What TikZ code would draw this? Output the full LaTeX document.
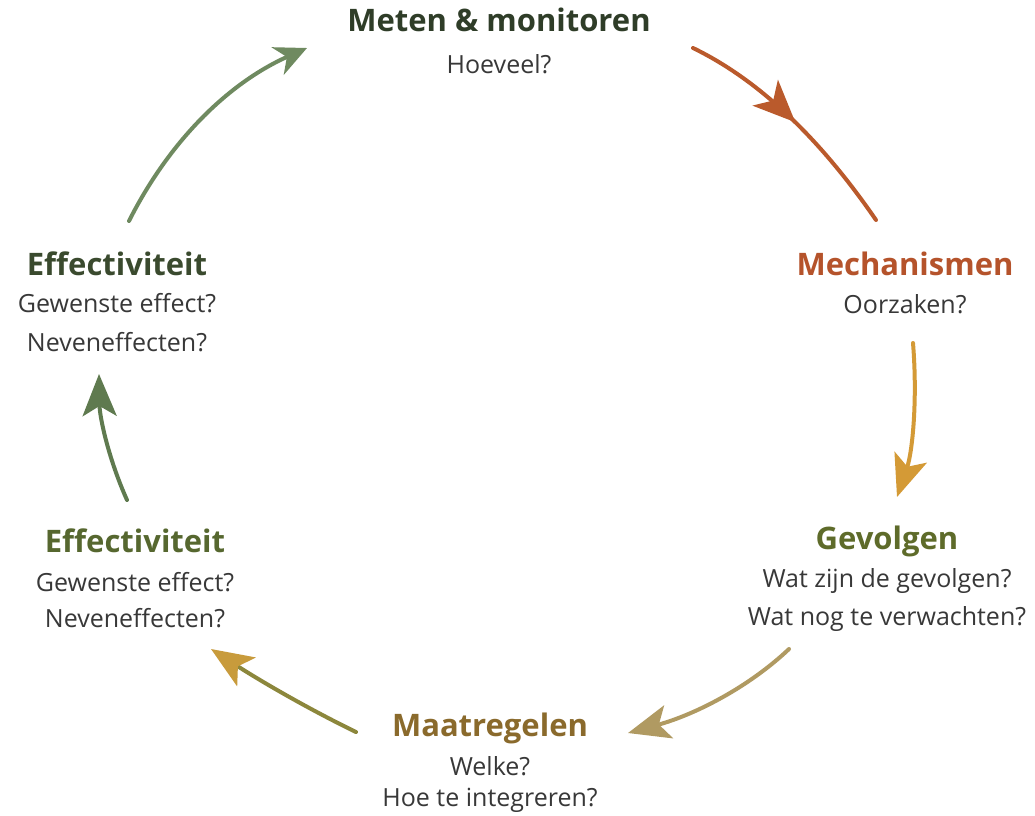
\documentclass[tikz,border=0pt]{standalone}
\usepackage{fontspec}
\setmainfont{Open Sans}
\usetikzlibrary{arrows.meta,decorations.markings,calc}
\definecolor{cMeten}{HTML}{2F3D28}
\definecolor{cMech}{HTML}{B5532B}
\definecolor{cGev}{HTML}{5E6B2A}
\definecolor{cMaat}{HTML}{8A6A2C}
\definecolor{cEffB}{HTML}{56672F}
\definecolor{cEffT}{HTML}{3A4A2E}
\definecolor{cBody}{HTML}{383838}
\definecolor{aOrange}{HTML}{BA5A2C}
\definecolor{aYellow}{HTML}{D49A36}
\definecolor{aTan}{HTML}{B09A62}
\definecolor{aOlive}{HTML}{8C873C}
\definecolor{aGold}{HTML}{C89B3C}
\definecolor{aGreen}{HTML}{5F7A4F}
\definecolor{aGreenL}{HTML}{6F8A60}
\begin{document}
\begin{tikzpicture}[x=1pt,y=-1pt,
  title/.style={font=\fontsize{31}{36}\selectfont\bfseries, inner sep=0pt, anchor=center},
  body/.style={font=\fontsize{25}{30}\selectfont, text=cBody, inner sep=0pt, anchor=center},
  arr/.style={line width=4pt, line cap=round},
  tip/.style={-{Stealth[length=42pt,width=34pt,inset=10pt]}},
]
\useasboundingbox (0,0) rectangle (1035,815);
\fill[white] (0,0) rectangle (1035,815);

% Texts
\node[title,text=cMeten] (t1) at (499,20) {Meten \& monitoren};
\node[body] (b1) at (499,64) {Hoeveel?};

\node[title,text=cMech] (t2) at (905,264) {Mechanismen};
\node[body] (b2) at (905,304) {Oorzaken?};

\node[title,text=cGev] (t3) at (887,541) {Gevolgen};
\node[body] (b3a) at (887,581) {Wat zijn de gevolgen?};
\node[body] (b3b) at (887,619) {Wat nog te verwachten?};

\node[title,text=cMaat] (t4) at (490,728) {Maatregelen};
\node[body] (b4a) at (490,766) {Welke?};
\node[body] (b4b) at (490,800) {Hoe te integreren?};

\node[title,text=cEffB] (t5) at (135,541) {Effectiviteit};
\node[body] (b5a) at (135,582) {Gewenste effect?};
\node[body] (b5b) at (135,618) {Neveneffecten?};

\node[title,text=cEffT] (t6) at (117,264) {Effectiviteit};
\node[body] (b6a) at (117,303) {Gewenste effect?};
\node[body] (b6b) at (117,342) {Neveneffecten?};

% Arrow coordinates (start, quadratic control, end)
\coordinate (a1s) at (693,48);
\coordinate (a1c) at (790,95);
\coordinate (a1e) at (876,220);
\coordinate (a2s) at (913,343);
\coordinate (a2c) at (920,430);
\coordinate (a2e) at (897,497);
\coordinate (a3s) at (789,649);
\coordinate (a3c) at (730,705);
\coordinate (a3e) at (628,733);
\coordinate (a4s) at (356,732);
\coordinate (a4c) at (290,700);
\coordinate (a4e) at (211,649);
\coordinate (a5s) at (127,500);
\coordinate (a5c) at (100,440);
\coordinate (a5e) at (99,374);
\coordinate (a6s) at (129,221);
\coordinate (a6c) at (190,100);
\coordinate (a6e) at (307,48);

% Arrows (quadratic curves as cubics)
\draw[arr, aOrange, postaction={decorate},
  decoration={markings, mark=at position 0.5 with {\arrow{Stealth[length=42pt,width=36pt,inset=11pt]}}}]
  (a1s) .. controls ($(a1s)!0.667!(a1c)$) and ($(a1e)!0.667!(a1c)$) .. (a1e);
\draw[arr, tip, aYellow] (a2s) .. controls ($(a2s)!0.667!(a2c)$) and ($(a2e)!0.667!(a2c)$) .. (a2e);
\draw[arr, tip, aTan] (a3s) .. controls ($(a3s)!0.667!(a3c)$) and ($(a3e)!0.667!(a3c)$) .. (a3e);
\draw[arr, aOlive, -{Stealth[length=42pt,width=34pt,inset=10pt,color=aGold]}] (a4s) .. controls ($(a4s)!0.667!(a4c)$) and ($(a4e)!0.667!(a4c)$) .. (a4e);
\draw[arr, tip, aGreen] (a5s) .. controls ($(a5s)!0.667!(a5c)$) and ($(a5e)!0.667!(a5c)$) .. (a5e);
\draw[arr, aGreenL, -{Stealth[length=32pt,width=30pt,inset=10pt]}] (a6s) .. controls ($(a6s)!0.667!(a6c)$) and ($(a6e)!0.667!(a6c)$) .. (a6e);
\end{tikzpicture}
\end{document}
